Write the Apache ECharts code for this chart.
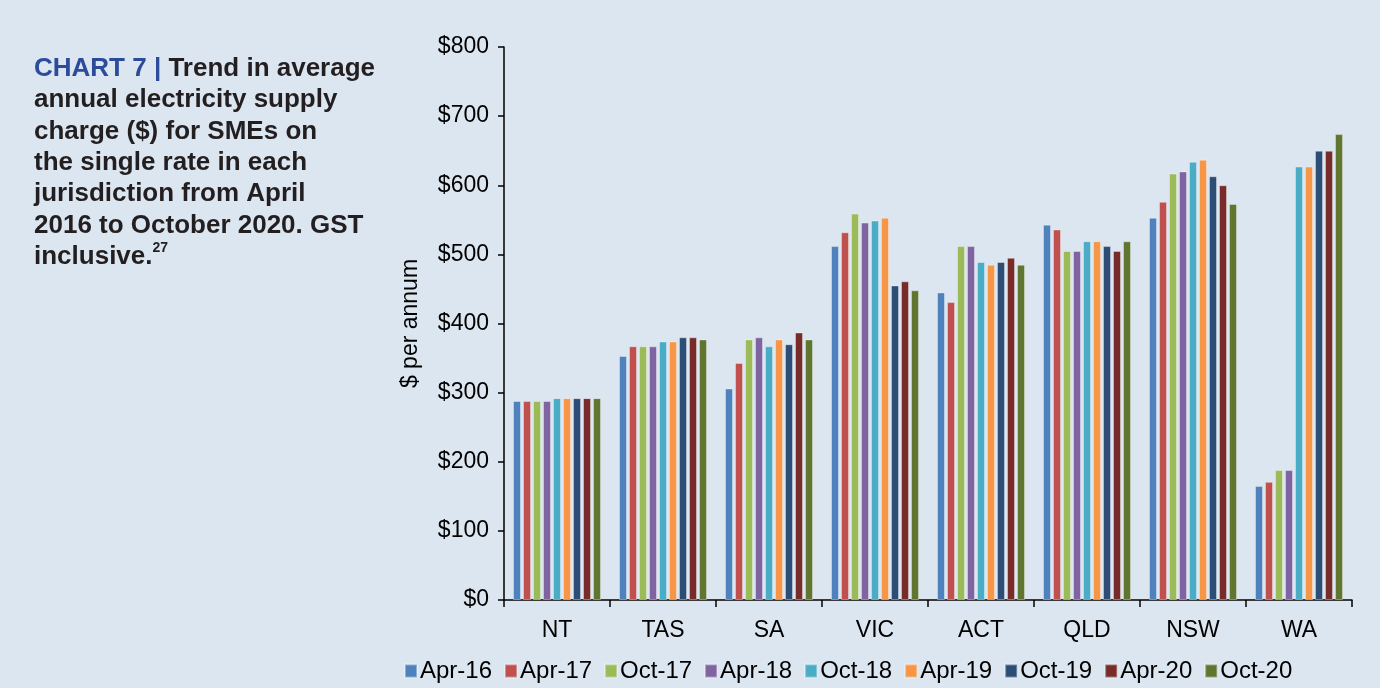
<!DOCTYPE html>
<html>
<head>
<meta charset="utf-8">
<script src="https://cdn.jsdelivr.net/npm/echarts@6/dist/echarts.min.js"></script>
<style>
html,body{margin:0;padding:0;background:#dce6f0;}
#main{width:1380px;height:688px;}
</style>
</head>
<body>
<div id="main"></div>
<script>
const categories = ['NT','TAS','SA','VIC','ACT','QLD','NSW','WA'];
const seriesNames = ['Apr-16','Apr-17','Oct-17','Apr-18','Oct-18','Apr-19','Oct-19','Apr-20','Oct-20'];
const apr16 = [288, 353, 306, 512, 445, 543, 553, 165];
const apr17 = [288, 367, 343, 532, 431, 536, 576, 171];
const oct17 = [288, 367, 377, 559, 512, 505, 617, 188];
const apr18 = [288, 367, 380, 546, 512, 505, 620, 188];
const oct18 = [292, 374, 367, 549, 489, 519, 634, 627];
const apr19 = [292, 374, 377, 553, 485, 519, 637, 627];
const oct19 = [292, 380, 370, 455, 489, 512, 613, 650];
const apr20 = [292, 380, 387, 461, 495, 505, 600, 650];
const oct20 = [292, 377, 377, 448, 485, 519, 573, 674];
const yTicks = [0,100,200,300,400,500,600,700,800];
const colors = ['#4f81bd','#c0504d','#9bbb59','#8064a2','#4bacc6','#f79646','#2c4d75','#772c2a','#5f7530'];

const allValues = [apr16, apr17, oct17, apr18, oct18, apr19, oct19, apr20, oct20];
const font = 'Liberation Sans, Arial, Helvetica, sans-serif';

const chart = echarts.init(document.getElementById('main'));
chart.setOption({
  backgroundColor: '#dce6f0',
  color: colors,
  animation: false,
  textStyle: {fontFamily: font},
  graphic: [{
    type: 'text',
    left: 34,
    top: 56,
    style: {
      text: '{a|CHART 7 | }{b|Trend in average}\n{b|annual electricity supply}\n{b|charge ($) for SMEs on}\n{b|the single rate in each}\n{b|jurisdiction from April}\n{b|2016 to October 2020. GST}\n{b|inclusive.}{s|27}',
      fontFamily: font,
      rich: {
        a: {fontSize: 26, fontWeight: 'bold', fill: '#2d4b9b', lineHeight: 31.3, fontFamily: font},
        b: {fontSize: 26, fontWeight: 'bold', fill: '#231f20', lineHeight: 31.3, fontFamily: font},
        s: {fontSize: 14, fontWeight: 'bold', fill: '#231f20', lineHeight: 31.3, verticalAlign: 'top', padding: [0,0,12,0], fontFamily: font}
      }
    }
  }],
  legend: {
    data: seriesNames,
    bottom: 0,
    left: 399,
    itemWidth: 12,
    itemHeight: 13,
    itemGap: 12,
    icon: 'rect',
    textStyle: {fontSize: 24, color: '#000', fontFamily: font, padding: [0,0,0,-2]}
  },
  grid: {left: 504, right: 28, top: 47, bottom: 88, containLabel: false},
  xAxis: {
    type: 'category',
    data: categories,
    axisLine: {lineStyle: {color: '#000', width: 1.5}},
    axisTick: {show: true, length: 7, lineStyle: {color: '#000', width: 1.5}},
    axisLabel: {fontSize: 23, color: '#000', margin: 19, fontFamily: font}
  },
  yAxis: {
    type: 'value',
    min: 0, max: 800, interval: 100,
    name: '$ per annum',
    nameLocation: 'middle',
    nameRotate: 90,
    nameGap: 82,
    nameTextStyle: {fontSize: 23, color: '#000', fontFamily: font},
    axisLine: {show: true, lineStyle: {color: '#000', width: 1.5}},
    axisTick: {show: true, length: 6, lineStyle: {color: '#000', width: 1.5}},
    splitLine: {show: false},
    axisLabel: {fontSize: 23, color: '#000', margin: 15, fontFamily: font,
      formatter: v => yTicks.includes(v) ? '$' + v : ''}
  },
  series: seriesNames.map((n, i) => ({
    name: n,
    type: 'bar',
    data: allValues[i],
    barWidth: 8,
    barGap: '25%',
    itemStyle: {color: colors[i], borderColor: 'rgba(255,255,255,0.35)', borderWidth: 1}
  }))
});
</script>
</body>
</html>
